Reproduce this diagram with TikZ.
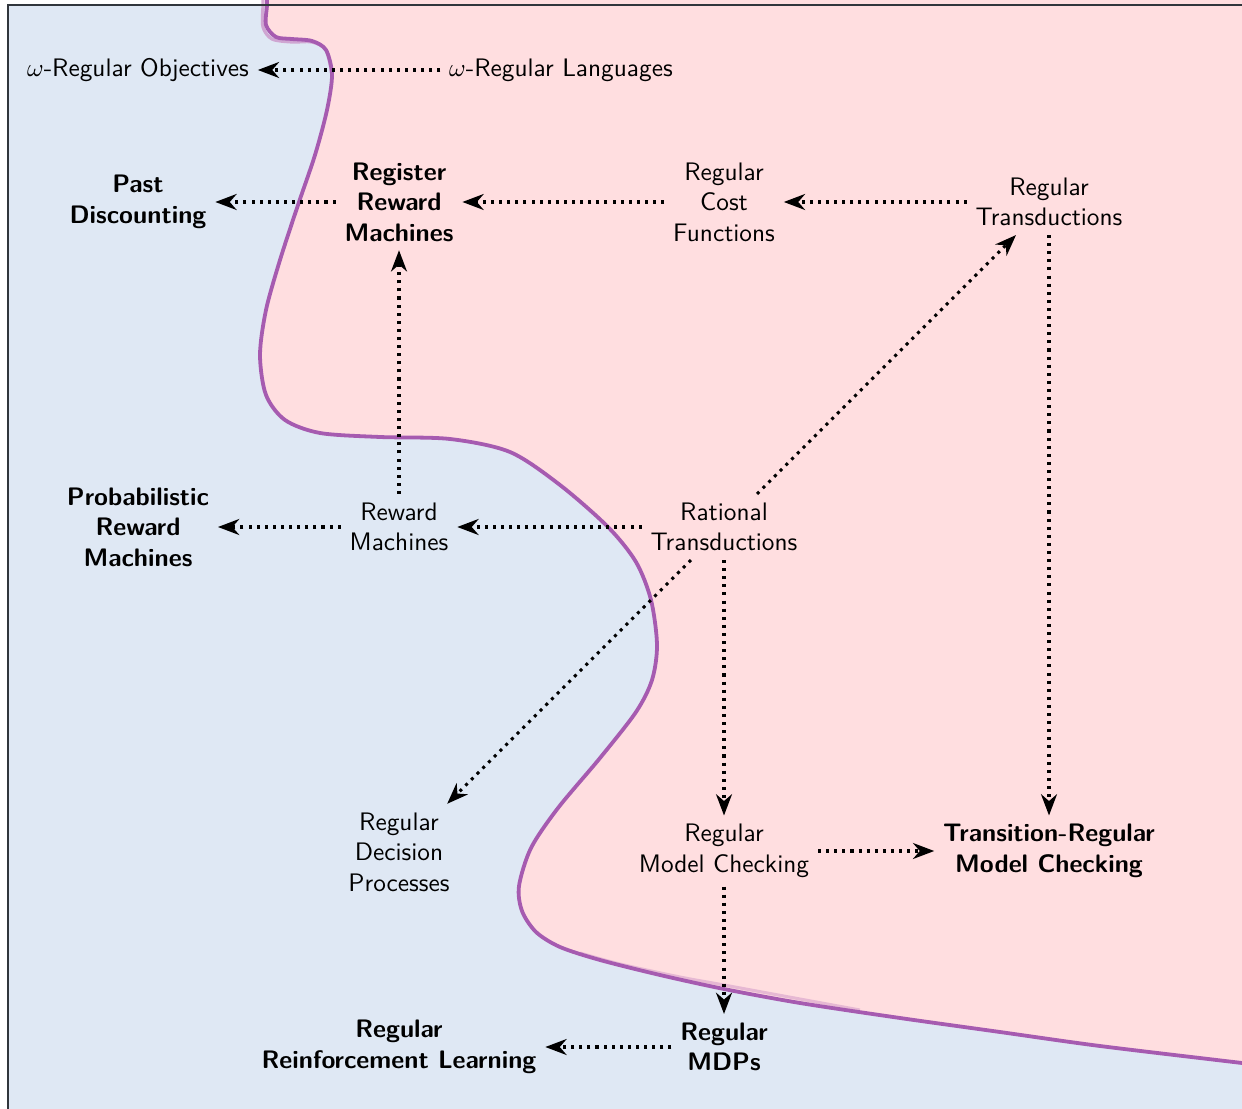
\documentclass[tikz,border=0pt]{standalone}
\usetikzlibrary{arrows.meta}
\definecolor{bluebg}{HTML}{DFE8F4}
\definecolor{pinkbg}{HTML}{FFDEE0}
\definecolor{framegray}{HTML}{30363C}
\definecolor{bordercol}{HTML}{A65BB0}
\definecolor{borderlight}{HTML}{C98BC4}

\begin{document}
\begin{tikzpicture}[x=0.395pt,y=-0.395pt,
  lbl/.style={font=\sffamily, align=center, inner sep=3.33pt},
  key/.style={font=\sffamily\bfseries, align=center, inner sep=3.33pt},
  flow/.style={very thick, dotted, -{Stealth[length=8.4pt,width=6.3pt,inset=2.7pt]}}]

\useasboundingbox (0,0) rectangle (1242,1109);

\begin{scope}
  \clip (0,0) rectangle (1242,1109);
  % two regions separated by a wavy border
  \fill[bluebg] (8,5) rectangle (1300,1200);
  \fill[pinkbg] plot[smooth] coordinates {
    (267,-10) (267,5) (266,25) (276,37) (292,39) (312,41) (326,50) (332,75)
    (327,110) (315,155) (298,205) (280,260) (266,310) (260,355) (266,395)
    (285,420) (320,433) (380,437) (450,439) (510,452) (560,485) (608,527)
    (636,562) (651,600) (657,645) (652,680) (636,712) (600,758) (558,808)
    (531,848) (519,886) (522,911) (536,932) (560,947) (600,960) (660,975)
    (724,989) (800,1003) (900,1018) (1000,1032) (1100,1046) (1242,1063)
    (1300,1070)}
    -- (1300,-10) -- cycle;
  % slightly offset second outline of the border
  \draw[borderlight, line width=1.3pt, opacity=0.7] plot[smooth] coordinates {
    (263,-10) (263,5) (263,27) (272,39) (292,42) (312,42) (326,50) (332,75)};
  \draw[borderlight, line width=1.2pt, opacity=0.45] plot[smooth] coordinates {
    (580,953) (620,964) (680,977) (724,985) (800,999) (860,1010)};
  % main border
  \draw[bordercol, line width=1.5pt] plot[smooth] coordinates {
    (267,-10) (267,5) (266,25) (276,37) (292,39) (312,41) (326,50) (332,75)
    (327,110) (315,155) (298,205) (280,260) (266,310) (260,355) (266,395)
    (285,420) (320,433) (380,437) (450,439) (510,452) (560,485) (608,527)
    (636,562) (651,600) (657,645) (652,680) (636,712) (600,758) (558,808)
    (531,848) (519,886) (522,911) (536,932) (560,947) (600,960) (660,975)
    (724,989) (800,1003) (900,1018) (1000,1032) (1100,1046) (1242,1063)
    (1300,1070)};
  % outer frame
  \draw[framegray, line width=0.8pt] (8,5) rectangle (1300,1200);
\end{scope}

% concepts
\node[lbl] (wobj) at (138,70) {$\omega$-Regular Objectives};
\node[lbl] (wlang) at (561,70) {$\omega$-Regular Languages};
\node[key] (past) at (138,202) {Past\\Discounting};
\node[key] (rrm) at (399,202) {Register\\Reward\\Machines};
\node[lbl] (rcf) at (724,202) {Regular\\Cost\\Functions};
\node[lbl] (rt) at (1049,202) {Regular\\Transductions};
\node[key] (prm) at (138,527) {Probabilistic\\Reward\\Machines};
\node[lbl] (rm) at (399,527) {Reward\\Machines};
\node[lbl] (rat) at (724,527) {Rational\\Transductions};
\node[lbl] (rdp) at (399,852) {Regular\\Decision\\Processes};
\node[lbl] (rmc) at (724,851) {Regular\\Model Checking};
\node[key] (trmc) at (1049,851) {Transition-Regular\\Model Checking};
\node[key] (mdp) at (724,1047) {Regular\\MDPs};
\node[key] (rrl) at (399,1047) {Regular\\Reinforcement Learning};

% relations
\draw[flow] (wlang) -- (wobj);
\draw[flow] (rt) -- (rcf);
\draw[flow] (rcf) -- (rrm);
\draw[flow] (rrm) -- (past);
\draw[flow] (rm) -- (rrm);
\draw[flow] (rm) -- (prm);
\draw[flow] (rat) -- (rm);
\draw[flow] (rat) -- (rt);
\draw[flow] (rat) -- (rdp);
\draw[flow] (rat) -- (rmc);
\draw[flow] (rt) -- (trmc);
\draw[flow] (rmc) -- (trmc);
\draw[flow] (rmc) -- (mdp);
\draw[flow] (mdp) -- (rrl);
\end{tikzpicture}
\end{document}
